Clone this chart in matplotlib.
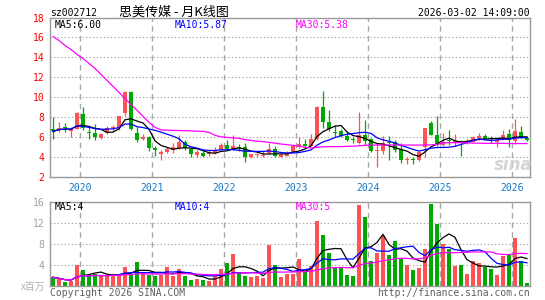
import matplotlib
matplotlib.use('Agg')
import matplotlib.pyplot as plt
import numpy as np
import pandas as pd

W, H = 545, 300

# ---------------- data (monthly, 2019-08 .. 2026-03) ----------------
months = pd.period_range('2019-08', '2026-03', freq='M')

opens = [6.8, 6.75, 7.0, 6.6, 6.85, 8.3, 6.5, 6.4, 5.9, 6.4,
         6.9, 6.9, 8.4, 10.5, 6.4, 5.8, 6.05, 4.95, 4.3, 4.5,
         4.7, 4.9, 5.55, 4.8, 4.2, 4.45, 4.3, 4.4, 4.75, 5.25,
         4.85, 5.0, 5.05, 4.0, 4.2, 4.15, 4.4, 4.8, 4.05, 4.15,
         4.55, 5.0, 5.35, 5.15, 5.8, 9.0, 7.55, 6.55, 6.65, 6.15,
         5.85, 5.4, 6.25, 5.8, 4.6, 4.6, 5.55, 5.5, 4.85, 3.75,
         3.8, 3.7, 5.05, 7.4, 6.25, 5.25, 5.65, 5.45, 5.6, 5.4,
         5.55, 5.95, 6.15, 5.85, 5.55, 5.75, 6.35, 5.6, 6.5, 5.95]
highs = [8.0, 7.55, 7.4, 7.0, 8.55, 9.0, 7.15, 7.3, 6.4, 7.15,
         7.25, 8.15, 10.65, 10.65, 7.0, 6.3, 6.1, 5.15, 4.75, 5.05,
         5.4, 6.2, 5.7, 5.0, 4.75, 4.7, 4.7, 5.05, 5.4, 5.75,
         6.25, 5.35, 5.4, 4.35, 4.4, 4.6, 5.4, 5.15, 4.45, 4.6,
         5.15, 6.0, 5.8, 6.35, 9.15, 10.65, 8.75, 7.2, 6.8, 6.55,
         6.05, 8.55, 7.7, 5.9, 5.4, 6.15, 6.1, 5.7, 5.45, 4.05,
         4.0, 4.55, 6.95, 7.65, 8.1, 6.4, 6.7, 6.35, 5.75, 5.8,
         6.1, 6.4, 6.3, 6.1, 5.8, 6.75, 6.8, 7.8, 7.15, 6.0]
lows = [5.8, 6.5, 6.5, 6.05, 6.8, 6.75, 5.8, 5.7, 5.8, 6.3,
        6.6, 6.75, 8.1, 6.75, 5.55, 5.75, 4.65, 4.1, 3.75, 4.45,
        4.45, 4.85, 4.75, 4.05, 4.05, 4.0, 4.15, 4.35, 4.7, 4.7,
        4.7, 4.6, 3.55, 3.9, 4.0, 4.0, 4.35, 4.0, 4.0, 4.1,
        4.5, 4.95, 4.9, 5.1, 5.75, 6.9, 6.6, 6.0, 6.05, 5.65,
        5.4, 5.35, 5.25, 4.5, 3.0, 4.35, 3.7, 4.5, 3.45, 3.35,
        3.35, 3.6, 4.05, 6.25, 5.1, 5.1, 5.25, 5.15, 4.1, 5.35,
        5.5, 5.75, 5.8, 5.45, 5.05, 5.7, 5.05, 5.35, 5.9, 5.6]
closes = [6.6, 6.95, 6.95, 6.8, 8.4, 6.9, 6.4, 6.0, 6.3, 6.9,
          7.0, 8.1, 10.5, 6.8, 5.75, 6.05, 4.95, 4.7, 4.5, 4.8,
          5.05, 5.55, 4.9, 4.3, 4.5, 4.15, 4.45, 4.65, 5.2, 4.8,
          5.15, 4.9, 4.0, 4.3, 4.28, 4.25, 4.8, 4.15, 4.2, 4.35,
          5.1, 5.35, 5.15, 5.8, 9.0, 7.55, 6.8, 6.45, 6.15, 5.75,
          5.75, 6.25, 5.6, 4.65, 4.65, 5.45, 5.4, 4.75, 3.7, 3.8,
          3.75, 4.5, 6.95, 6.25, 5.25, 5.55, 5.6, 5.65, 5.55, 5.65,
          6.0, 6.1, 5.8, 5.8, 5.75, 6.2, 5.7, 6.65, 5.95, 5.75]
volumes = [1.6, 1.2, 0.65, 0.95, 3.9, 3.0, 2.0, 2.2, 1.85, 1.85,
           2.2, 2.2, 3.6, 2.0, 4.5, 2.35, 2.0, 1.85, 2.0, 3.6,
           1.85, 3.2, 1.85, 1.1, 1.3, 1.1, 0.95, 1.85, 3.2, 4.3,
           6.0, 2.6, 1.85, 1.6, 1.85, 1.45, 7.75, 4.0, 1.65, 2.2,
           2.2, 5.05, 2.7, 3.75, 12.3, 9.65, 6.2, 3.45, 3.5, 2.05,
           1.85, 15.4, 13.0, 4.7, 6.2, 9.5, 5.8, 8.5, 5.1, 3.9,
           3.0, 3.4, 7.0, 15.6, 11.7, 7.9, 7.0, 3.75, 3.9, 2.2,
           4.7, 4.25, 3.6, 3.2, 2.0, 5.65, 5.8, 9.1, 4.7, 0.5]
# 30-month average of the close
ma30_price = [16.1, 15.7, 15.2, 14.8, 14.3, 13.9, 13.4, 12.9, 12.3, 11.7,
              11.1, 10.5, 9.9, 9.3, 8.7, 8.1, 7.5, 7.0, 6.75, 6.72,
              6.7, 6.68, 6.66, 6.65, 6.62, 6.6, 6.5, 6.2, 6.05, 6.0,
              5.95, 5.9, 5.78, 5.7, 5.62, 5.57, 5.5, 5.42, 5.33, 5.27,
              5.2, 5.13, 5.0, 4.93, 5.0, 5.05, 5.07, 5.07, 5.07, 5.1,
              5.12, 5.15, 5.2, 5.22, 5.23, 5.23, 5.23, 5.23, 5.23, 5.23,
              5.23, 5.23, 5.23, 5.25, 5.3, 5.45, 5.47, 5.47, 5.47, 5.45,
              5.42, 5.42, 5.4, 5.4, 5.4, 5.4, 5.38, 5.38, 5.38, 5.38]

price_ticks = [2, 4, 6, 8, 10, 12, 14, 16, 18]
vol_ticks = [4, 8, 12, 16]
title_code = 'sz002712'
title_name = '思美传媒 - 月K线图'
timestamp = '2026-03-02 14:09:00'
price_labels = [('MA5:6.00', 'black'), ('MA10:5.87', '#0000FF'), ('MA30:5.38', '#FF00FF')]
vol_labels = [('MA5:4', 'black'), ('MA10:4', '#0000FF'), ('MA30:5', '#FF00FF')]

# ---------------- styles ----------------
RED = '#FF5252'
GREEN = '#00A800'
GRID = '#A8A8A8'
SPINE = '#9A9A9A'
MONO = 'DejaVu Sans Mono'
FS = 7

x = np.arange(len(months))
o = np.array(opens); h = np.array(highs); l = np.array(lows); c = np.array(closes)
v = np.array(volumes)
colors = [RED if cc >= oo else GREEN for oo, cc in zip(o, c)]

cs = pd.Series(closes)
ma5 = cs.rolling(5, min_periods=1).mean()
ma10 = cs.rolling(10, min_periods=1).mean()
vs = pd.Series(volumes)
vma5 = vs.rolling(5, min_periods=1).mean()
vma10 = vs.rolling(10, min_periods=1).mean()
vma30 = vs.rolling(30, min_periods=1).mean()

fig = plt.figure(figsize=(W / 100, H / 100), dpi=100)


def px_rect(left, top, right, bottom):
    return [left / W, 1 - bottom / H, (right - left) / W, (bottom - top) / H]


ax = fig.add_axes(px_rect(50, 17.5, 530, 177.3))
axv = fig.add_axes(px_rect(50, 201.5, 530, 285.7))

jan_pos = [i - 0.5 for i, m in enumerate(months) if m.month == 1]
jan_lab = [str(m.year) for m in months if m.month == 1]

for a in (ax, axv):
    a.set_xlim(-0.5, len(months) - 0.5)
    for s in a.spines.values():
        s.set_color(SPINE)
        s.set_linewidth(1.0)
    a.tick_params(length=0)
    for xp in jan_pos:
        a.axvline(xp, color=GRID, lw=1.0, ls=(0, (4, 3)), zorder=0)

# ---- price panel ----
ax.set_ylim(price_ticks[0], price_ticks[-1])
for t in price_ticks[1:-1]:
    ax.axhline(t, color=GRID, lw=0.8, ls=(0, (1.2, 2.0)), zorder=0)
ax.vlines(x, l, h, colors=colors, lw=0.9, zorder=2)
body_h = np.maximum(np.abs(c - o), 0.1)
ax.bar(x, body_h, bottom=np.minimum(o, c), width=0.83, color=colors,
       linewidth=0, zorder=3)
ax.plot(x, ma5, color='black', lw=0.9, zorder=4)
ax.plot(x, ma10, color='#0000FF', lw=0.9, zorder=4)
ax.plot(x, ma30_price, color='#FF00FF', lw=0.9, zorder=4)

ax.set_yticks(price_ticks)
ax.set_yticklabels([str(t) for t in price_ticks], color='#FF0000',
                   fontfamily=MONO, fontsize=FS)
ax.tick_params(axis='y', pad=4)
ax.set_xticks(jan_pos)
ax.set_xticklabels(jan_lab, color='#1878C8', fontfamily=MONO, fontsize=FS)
ax.tick_params(axis='x', pad=4)

# ---- volume panel ----
axv.set_ylim(0, vol_ticks[-1])
for t in vol_ticks[:-1]:
    axv.axhline(t, color=GRID, lw=0.8, ls=(0, (1.2, 2.0)), zorder=0)
axv.bar(x, v, width=0.83, color=colors, linewidth=0, zorder=2)
axv.plot(x, vma5, color='black', lw=0.9, zorder=4)
axv.plot(x, vma10, color='#0000FF', lw=0.9, zorder=4)
axv.plot(x, vma30, color='#FF00FF', lw=0.9, zorder=4)
axv.set_yticks(vol_ticks)
axv.set_yticklabels([str(t) for t in vol_ticks], color='#A0A0A0',
                    fontfamily=MONO, fontsize=FS)
axv.tick_params(axis='y', pad=4)
axv.set_xticks([])


def ftext(px, py, s, **kw):
    fig.text(px / W, 1 - py / H, s, **kw)


# header
ftext(50, 15.5, title_code, fontfamily=MONO, fontsize=FS, va='baseline')
ftext(119, 15.5, title_name, family=['Noto Sans CJK SC', 'DejaVu Sans'],
      fontsize=9.4, va='baseline')
ftext(530, 15.5, timestamp, fontfamily=MONO, fontsize=FS, va='baseline', ha='right')

# MA labels
label_x = [54.5, 174.5, 295.5]
for (s, col), lx in zip(price_labels, label_x):
    ftext(lx, 28.5, s, color=col, fontfamily=MONO, fontsize=FS, va='baseline')
for (s, col), lx in zip(vol_labels, label_x):
    ftext(lx, 210, s, color=col, fontfamily=MONO, fontsize=FS, va='baseline')

# footer
ftext(45, 290, 'x百万', family=['Noto Sans CJK SC', 'DejaVu Sans'], fontsize=7,
      color='#B0B0B0', ha='right', va='baseline')
ftext(50, 296, 'Copyright 2026 SINA.COM', fontfamily=MONO, fontsize=FS,
      color='#606060', va='baseline')
ftext(530, 296, 'http://finance.sina.com.cn', fontfamily=MONO, fontsize=FS,
      color='#606060', va='baseline', ha='right')

# watermark
ftext(513, 170, 'sina', fontsize=12, fontweight='bold', style='italic',
      color='#D0D0D0', ha='center', va='baseline', alpha=0.9)

fig.savefig('out.png', dpi=100)
